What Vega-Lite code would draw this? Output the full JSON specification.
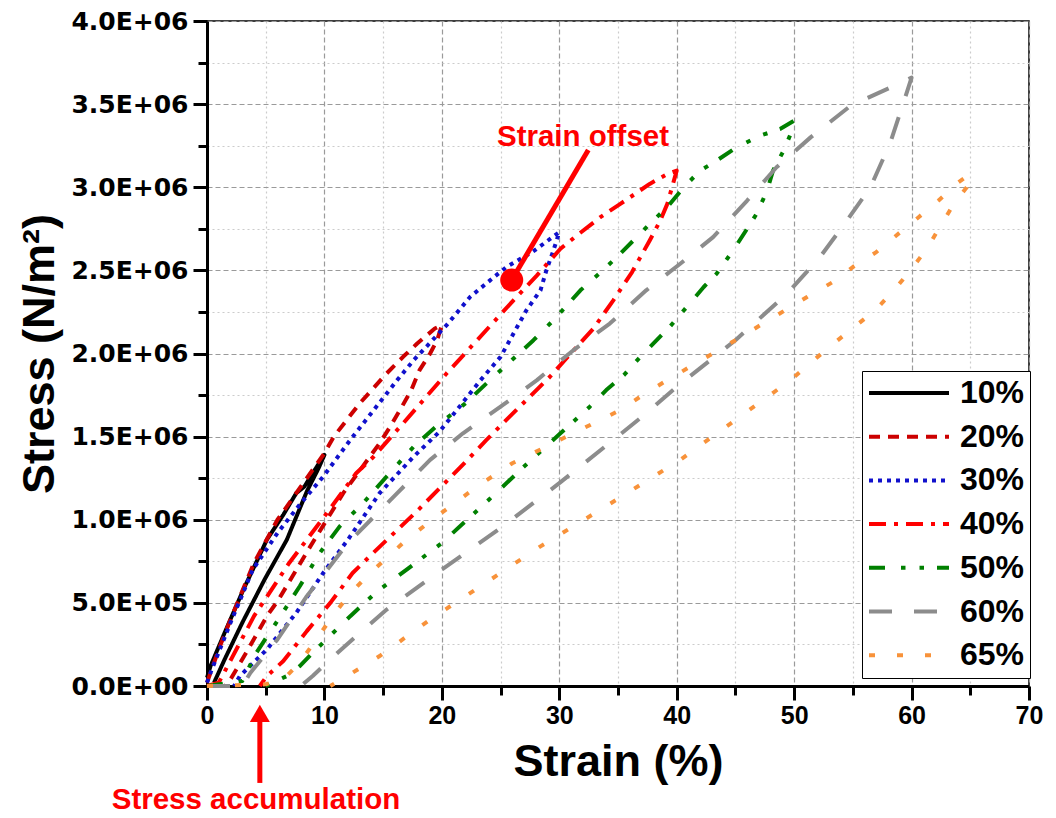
{
"$schema": "https://vega.github.io/schema/vega-lite/v6.json",
"width": 822, "height": 665,
"autosize": {"type": "none"},
"padding": {"left": 207, "top": 21, "right": 27, "bottom": 132},
"background": "white",
"config": {"view": {"stroke": "black", "strokeWidth": 1.5}, "font": "Liberation Sans"},
"layer": [
{
"data": {"values": [
{"c":"10%","x":0,"y":50000},{"c":"10%","x":0.3,"y":120000},{"c":"10%","x":1.5,"y":320000},{"c":"10%","x":3.1,"y":580000},{"c":"10%","x":5.1,"y":880000},{"c":"10%","x":6.5,"y":1030000},{"c":"10%","x":7.6,"y":1160000},{"c":"10%","x":8.3,"y":1200000},{"c":"10%","x":9,"y":1280000},{"c":"10%","x":10,"y":1390000},{"c":"10%","x":9.5,"y":1310000},{"c":"10%","x":8.5,"y":1170000},{"c":"10%","x":6.8,"y":880000},{"c":"10%","x":4.9,"y":640000},{"c":"10%","x":3,"y":380000},{"c":"10%","x":1.5,"y":160000},{"c":"10%","x":0.6,"y":20000},
{"c":"20%","x":0,"y":20000},{"c":"20%","x":1,"y":220000},{"c":"20%","x":2,"y":400000},{"c":"20%","x":4,"y":740000},{"c":"20%","x":6,"y":1000000},{"c":"20%","x":8,"y":1200000},{"c":"20%","x":10,"y":1400000},{"c":"20%","x":10.8,"y":1500000},{"c":"20%","x":13,"y":1700000},{"c":"20%","x":15.3,"y":1880000},{"c":"20%","x":16.7,"y":1980000},{"c":"20%","x":17.9,"y":2060000},{"c":"20%","x":19.4,"y":2150000},{"c":"20%","x":20,"y":2170000},{"c":"20%","x":19.6,"y":2080000},{"c":"20%","x":19,"y":2000000},{"c":"20%","x":18.1,"y":1900000},{"c":"20%","x":17.4,"y":1780000},{"c":"20%","x":16.6,"y":1680000},{"c":"20%","x":15.6,"y":1560000},{"c":"20%","x":14.7,"y":1460000},{"c":"20%","x":11.6,"y":1160000},{"c":"20%","x":8.8,"y":840000},{"c":"20%","x":6.1,"y":520000},{"c":"20%","x":5.1,"y":420000},{"c":"20%","x":3.5,"y":220000},{"c":"20%","x":2,"y":40000},{"c":"20%","x":1.5,"y":0},
{"c":"30%","x":0,"y":20000},{"c":"30%","x":0.3,"y":80000},{"c":"30%","x":2,"y":380000},{"c":"30%","x":3.9,"y":700000},{"c":"30%","x":6,"y":920000},{"c":"30%","x":8,"y":1100000},{"c":"30%","x":9.9,"y":1260000},{"c":"30%","x":12.2,"y":1480000},{"c":"30%","x":14.2,"y":1660000},{"c":"30%","x":16.2,"y":1840000},{"c":"30%","x":17.6,"y":1960000},{"c":"30%","x":20.4,"y":2170000},{"c":"30%","x":22.4,"y":2340000},{"c":"30%","x":24.1,"y":2440000},{"c":"30%","x":25.5,"y":2520000},{"c":"30%","x":27.7,"y":2610000},{"c":"30%","x":30,"y":2730000},{"c":"30%","x":29.5,"y":2620000},{"c":"30%","x":28.9,"y":2500000},{"c":"30%","x":28.4,"y":2380000},{"c":"30%","x":27.2,"y":2260000},{"c":"30%","x":26.1,"y":2120000},{"c":"30%","x":25,"y":1980000},{"c":"30%","x":23.3,"y":1840000},{"c":"30%","x":21.5,"y":1680000},{"c":"30%","x":19.8,"y":1530000},{"c":"30%","x":17.6,"y":1380000},{"c":"30%","x":14.7,"y":1160000},{"c":"30%","x":12,"y":880000},{"c":"30%","x":9.9,"y":680000},{"c":"30%","x":7.6,"y":440000},{"c":"30%","x":5.1,"y":220000},{"c":"30%","x":2.8,"y":60000},{"c":"30%","x":2.3,"y":0},
{"c":"40%","x":0,"y":0},{"c":"40%","x":1,"y":20000},{"c":"40%","x":2.2,"y":180000},{"c":"40%","x":4,"y":420000},{"c":"40%","x":7,"y":740000},{"c":"40%","x":10,"y":1020000},{"c":"40%","x":12.7,"y":1280000},{"c":"40%","x":14.2,"y":1380000},{"c":"40%","x":16.7,"y":1580000},{"c":"40%","x":20.4,"y":1880000},{"c":"40%","x":23,"y":2080000},{"c":"40%","x":26.1,"y":2320000},{"c":"40%","x":28.1,"y":2470000},{"c":"40%","x":30.1,"y":2630000},{"c":"40%","x":31.5,"y":2710000},{"c":"40%","x":33.5,"y":2820000},{"c":"40%","x":35.2,"y":2900000},{"c":"40%","x":37.7,"y":3020000},{"c":"40%","x":39.2,"y":3080000},{"c":"40%","x":40,"y":3100000},{"c":"40%","x":39.6,"y":3000000},{"c":"40%","x":39.2,"y":2900000},{"c":"40%","x":38.6,"y":2800000},{"c":"40%","x":37.7,"y":2680000},{"c":"40%","x":36.2,"y":2490000},{"c":"40%","x":34.6,"y":2320000},{"c":"40%","x":32.9,"y":2150000},{"c":"40%","x":30.6,"y":1970000},{"c":"40%","x":29.2,"y":1860000},{"c":"40%","x":27.2,"y":1720000},{"c":"40%","x":25.2,"y":1580000},{"c":"40%","x":23.8,"y":1480000},{"c":"40%","x":21.5,"y":1310000},{"c":"40%","x":18,"y":1060000},{"c":"40%","x":14,"y":790000},{"c":"40%","x":12.4,"y":680000},{"c":"40%","x":10.5,"y":500000},{"c":"40%","x":8.5,"y":330000},{"c":"40%","x":6.5,"y":150000},{"c":"40%","x":5.1,"y":60000},{"c":"40%","x":4.5,"y":0},
{"c":"50%","x":0,"y":0},{"c":"50%","x":3,"y":30000},{"c":"50%","x":4.2,"y":200000},{"c":"50%","x":5.7,"y":360000},{"c":"50%","x":7.9,"y":600000},{"c":"50%","x":9.6,"y":800000},{"c":"50%","x":11.3,"y":960000},{"c":"50%","x":13.3,"y":1100000},{"c":"50%","x":15.3,"y":1260000},{"c":"50%","x":17.6,"y":1440000},{"c":"50%","x":19.5,"y":1560000},{"c":"50%","x":22,"y":1700000},{"c":"50%","x":24.1,"y":1840000},{"c":"50%","x":27.8,"y":2080000},{"c":"50%","x":29.5,"y":2200000},{"c":"50%","x":31.8,"y":2380000},{"c":"50%","x":33.7,"y":2500000},{"c":"50%","x":34.9,"y":2580000},{"c":"50%","x":36.6,"y":2700000},{"c":"50%","x":38,"y":2800000},{"c":"50%","x":39.2,"y":2880000},{"c":"50%","x":40.6,"y":3000000},{"c":"50%","x":42,"y":3100000},{"c":"50%","x":43.4,"y":3160000},{"c":"50%","x":45.1,"y":3240000},{"c":"50%","x":47.1,"y":3310000},{"c":"50%","x":48.8,"y":3350000},{"c":"50%","x":50,"y":3400000},{"c":"50%","x":49.7,"y":3320000},{"c":"50%","x":49.1,"y":3220000},{"c":"50%","x":48.2,"y":3100000},{"c":"50%","x":47.7,"y":2980000},{"c":"50%","x":46.8,"y":2840000},{"c":"50%","x":45.9,"y":2740000},{"c":"50%","x":44.8,"y":2620000},{"c":"50%","x":43.4,"y":2480000},{"c":"50%","x":42.3,"y":2400000},{"c":"50%","x":41.1,"y":2300000},{"c":"50%","x":39.4,"y":2160000},{"c":"50%","x":36.9,"y":1980000},{"c":"50%","x":35.5,"y":1870000},{"c":"50%","x":34,"y":1780000},{"c":"50%","x":32.6,"y":1680000},{"c":"50%","x":30.1,"y":1520000},{"c":"50%","x":27,"y":1320000},{"c":"50%","x":24,"y":1120000},{"c":"50%","x":20,"y":860000},{"c":"50%","x":17,"y":700000},{"c":"50%","x":14.5,"y":570000},{"c":"50%","x":12.2,"y":420000},{"c":"50%","x":9,"y":200000},{"c":"50%","x":7.9,"y":120000},{"c":"50%","x":6.8,"y":60000},{"c":"50%","x":5,"y":0},
{"c":"60%","x":0,"y":0},{"c":"60%","x":3,"y":0},{"c":"60%","x":3.7,"y":80000},{"c":"60%","x":6,"y":280000},{"c":"60%","x":8.5,"y":540000},{"c":"60%","x":12,"y":860000},{"c":"60%","x":16.2,"y":1160000},{"c":"60%","x":19,"y":1360000},{"c":"60%","x":21.8,"y":1520000},{"c":"60%","x":25,"y":1680000},{"c":"60%","x":28.1,"y":1840000},{"c":"60%","x":31.2,"y":2020000},{"c":"60%","x":34.3,"y":2180000},{"c":"60%","x":37.4,"y":2380000},{"c":"60%","x":40.3,"y":2540000},{"c":"60%","x":43.1,"y":2700000},{"c":"60%","x":46,"y":2920000},{"c":"60%","x":48.5,"y":3120000},{"c":"60%","x":51.4,"y":3300000},{"c":"60%","x":54.8,"y":3490000},{"c":"60%","x":58.2,"y":3600000},{"c":"60%","x":60,"y":3660000},{"c":"60%","x":59.5,"y":3550000},{"c":"60%","x":58.2,"y":3270000},{"c":"60%","x":56.5,"y":3000000},{"c":"60%","x":54.5,"y":2800000},{"c":"60%","x":52.2,"y":2580000},{"c":"60%","x":49.4,"y":2360000},{"c":"60%","x":45,"y":2080000},{"c":"60%","x":40,"y":1800000},{"c":"60%","x":37.4,"y":1640000},{"c":"60%","x":34.6,"y":1480000},{"c":"60%","x":30,"y":1220000},{"c":"60%","x":25,"y":950000},{"c":"60%","x":20,"y":700000},{"c":"60%","x":15.3,"y":460000},{"c":"60%","x":12.7,"y":300000},{"c":"60%","x":10.5,"y":160000},{"c":"60%","x":9,"y":60000},{"c":"60%","x":8,"y":0},
{"c":"65%","x":0,"y":0},{"c":"65%","x":5,"y":10000},{"c":"65%","x":6.5,"y":40000},{"c":"65%","x":7.9,"y":140000},{"c":"65%","x":9.3,"y":280000},{"c":"65%","x":10.7,"y":420000},{"c":"65%","x":12,"y":540000},{"c":"65%","x":13.6,"y":660000},{"c":"65%","x":15.3,"y":770000},{"c":"65%","x":17,"y":880000},{"c":"65%","x":19,"y":990000},{"c":"65%","x":23,"y":1200000},{"c":"65%","x":26,"y":1340000},{"c":"65%","x":28.9,"y":1440000},{"c":"65%","x":30.9,"y":1510000},{"c":"65%","x":33.2,"y":1590000},{"c":"65%","x":35.2,"y":1660000},{"c":"65%","x":37.1,"y":1750000},{"c":"65%","x":39.2,"y":1840000},{"c":"65%","x":45,"y":2080000},{"c":"65%","x":51.1,"y":2340000},{"c":"65%","x":53.3,"y":2430000},{"c":"65%","x":55,"y":2520000},{"c":"65%","x":57,"y":2610000},{"c":"65%","x":58.7,"y":2710000},{"c":"65%","x":60.6,"y":2820000},{"c":"65%","x":62.3,"y":2920000},{"c":"65%","x":64,"y":3030000},{"c":"65%","x":65,"y":3080000},{"c":"65%","x":64.7,"y":3000000},{"c":"65%","x":63.6,"y":2900000},{"c":"65%","x":62.4,"y":2760000},{"c":"65%","x":61.3,"y":2630000},{"c":"65%","x":59.9,"y":2500000},{"c":"65%","x":58.5,"y":2380000},{"c":"65%","x":56.9,"y":2260000},{"c":"65%","x":53,"y":2040000},{"c":"65%","x":49.7,"y":1840000},{"c":"65%","x":45,"y":1600000},{"c":"65%","x":40.3,"y":1360000},{"c":"65%","x":33.5,"y":1060000},{"c":"65%","x":28.4,"y":840000},{"c":"65%","x":23.3,"y":600000},{"c":"65%","x":19,"y":400000},{"c":"65%","x":14.7,"y":180000},{"c":"65%","x":12.4,"y":80000},{"c":"65%","x":10.5,"y":0}
]},
"mark": {"type": "line", "strokeWidth": 4, "strokeJoin": "round"},
"encoding": {
"x": {"field": "x", "type": "quantitative", "scale": {"domain": [0, 70], "nice": false, "zero": false},
 "axis": {"values": [0,5,10,15,20,25,30,35,40,45,50,55,60,65,70], "title": "Strain (%)",
  "titleFont": "Liberation Sans", "titleFontSize": 45, "titleFontWeight": "bold", "titleColor": "black", "titlePadding": 11,
  "labelFont": "Liberation Sans", "labelFontSize": 25, "labelFontWeight": "bold", "labelColor": "black", "labelPadding": 3,
  "labelExpr": "datum.value % 10 === 0 ? datum.label : ''", "labelFlush": false, "labelOverlap": false,
  "domainColor": "black", "domainWidth": 3, "tickColor": "black", "tickWidth": 3,
  "tickSize": {"condition": {"test": "datum.value % 10 === 0", "value": 14}, "value": 9},
  "grid": true, "gridWidth": 1.2,
  "gridColor": {"condition": {"test": "datum.value % 10 === 0", "value": "#9a9a9a"}, "value": "#cccccc"},
  "gridDash": {"condition": {"test": "datum.value % 10 === 0", "value": [5, 3]}, "value": [2, 3]}}},
"y": {"field": "y", "type": "quantitative", "scale": {"domain": [0, 4000000], "nice": false, "zero": false},
 "axis": {"values": [0,250000,500000,750000,1000000,1250000,1500000,1750000,2000000,2250000,2500000,2750000,3000000,3250000,3500000,3750000,4000000],
  "title": "Stress (N/m²)",
  "titleFont": "Liberation Sans", "titleFontSize": 45, "titleFontWeight": "bold", "titleColor": "black", "titlePadding": 8,
  "labelFont": "DejaVu Sans", "labelFontSize": 25, "labelFontWeight": "bold", "labelColor": "black", "labelPadding": 5,
  "labelExpr": "datum.value % 500000 === 0 ? replace(format(datum.value, '.1e'), 'e+', 'E+0') : ''", "labelFlush": false, "labelOverlap": false,
  "domainColor": "black", "domainWidth": 3, "tickColor": "black", "tickWidth": 3,
  "tickSize": {"condition": {"test": "datum.value % 500000 === 0", "value": 14}, "value": 9},
  "grid": true, "gridWidth": 1.2,
  "gridColor": {"condition": {"test": "datum.value % 500000 === 0", "value": "#9a9a9a"}, "value": "#cccccc"},
  "gridDash": {"condition": {"test": "datum.value % 500000 === 0", "value": [5, 3]}, "value": [2, 3]}}},
"color": {"field": "c", "type": "nominal",
 "scale": {"domain": ["10%","20%","30%","40%","50%","60%","65%"], "range": ["#000000","#cc0000","#1010cc","#ff0000","#008000","#8c8c8c","#f8923a"]},
 "legend": {"title": null, "orient": "none", "legendX": 655, "legendY": 350, "symbolType": "stroke", "symbolSize": 6400, "symbolStrokeWidth": 4,
  "labelFont": "Liberation Sans", "labelFontSize": 32, "labelFontWeight": "bold", "labelColor": "black", "labelOffset": 9,
  "clipHeight": 34, "strokeColor": "black", "fillColor": "white", "padding": 5, "rowPadding": 9.7}},
"strokeDash": {"field": "c", "type": "nominal",
 "scale": {"domain": ["10%","20%","30%","40%","50%","60%","65%"], "range": [[1,0],[11,8],[4,5],[17,8,4,8],[16,16,4.5,14,4.5,13],[23,22],[6,22]]},
 "legend": {"title": null, "orient": "none", "legendX": 655, "legendY": 350, "symbolType": "stroke", "symbolSize": 6400, "symbolStrokeWidth": 4,
  "labelFont": "Liberation Sans", "labelFontSize": 32, "labelFontWeight": "bold", "labelColor": "black", "labelOffset": 9,
  "clipHeight": 34, "strokeColor": "black", "fillColor": "white", "padding": 5, "rowPadding": 9.7}},
"order": {"value": null}
}
},
{
"data": {"values": [{"x": 32.47, "y": 3224000, "x2": 25.95, "y2": 2442000}]},
"mark": {"type": "rule", "color": "#ff0000", "strokeWidth": 5},
"encoding": {"x": {"field": "x", "type": "quantitative"}, "y": {"field": "y", "type": "quantitative"}, "x2": {"field": "x2"}, "y2": {"field": "y2"}}
},
{
"data": {"values": [{"x": 25.95, "y": 2442000}]},
"mark": {"type": "point", "shape": "circle", "filled": true, "color": "#ff0000", "opacity": 1, "size": 530},
"encoding": {"x": {"field": "x", "type": "quantitative"}, "y": {"field": "y", "type": "quantitative"}}
},
{
"data": {"values": [{"x": 32.02, "y": 3302000, "t": "Strain offset"}, {"x": 4.17, "y": -686000, "t": "Stress accumulation"}]},
"mark": {"type": "text", "color": "#ff0000", "font": "Liberation Sans", "fontWeight": "bold", "fontSize": 29.5, "baseline": "middle", "align": "center"},
"encoding": {"x": {"field": "x", "type": "quantitative"}, "y": {"field": "y", "type": "quantitative"}, "text": {"field": "t"}}
},
{
"data": {"values": [{"x": 4.5, "y": -583000, "y2": -190000}]},
"mark": {"type": "rule", "color": "#ff0000", "strokeWidth": 5},
"encoding": {"x": {"field": "x", "type": "quantitative"}, "y": {"field": "y", "type": "quantitative"}, "y2": {"field": "y2"}}
},
{
"data": {"values": [{"x": 4.5, "y": -165000}]},
"mark": {"type": "point", "shape": "triangle-up", "filled": true, "color": "#ff0000", "opacity": 1, "size": 400},
"encoding": {"x": {"field": "x", "type": "quantitative"}, "y": {"field": "y", "type": "quantitative"}}
}
]
}
